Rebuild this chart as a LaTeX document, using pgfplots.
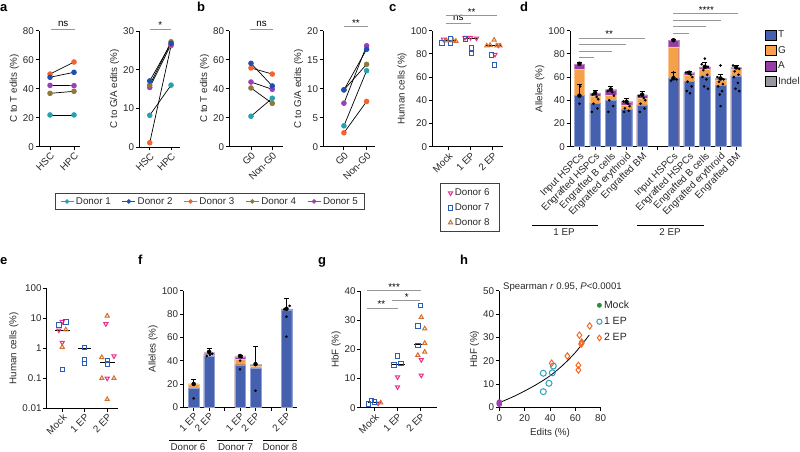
\documentclass[border=0pt]{standalone}
\usepackage{fontspec}
\setmainfont{Liberation Sans}
\usepackage{pgfplots}
\usepackage{pgfplotstable}
\pgfplotsset{compat=1.18}
\definecolor{dA}{RGB}{38,160,178}
\definecolor{dB}{RGB}{30,80,180}
\definecolor{dC}{RGB}{242,100,48}
\definecolor{dD}{RGB}{140,122,58}
\definecolor{dE}{RGB}{156,63,181}
\definecolor{dF}{RGB}{232,49,138}
\definecolor{dG}{RGB}{42,93,184}
\definecolor{dH}{RGB}{212,110,40}
\definecolor{sig}{RGB}{150,150,150}
\definecolor{cT}{RGB}{70,96,176}
\definecolor{cG}{RGB}{246,160,74}
\definecolor{cA}{RGB}{150,60,165}
\definecolor{cI}{RGB}{150,152,158}
\definecolor{hT}{RGB}{46,159,191}
\definecolor{hO}{RGB}{244,106,37}
\definecolor{hM}{RGB}{46,139,62}
\definecolor{hP}{RGB}{160,64,176}
\definecolor{txt}{RGB}{40,40,40}
\newcommand\fs{\fontsize{9.8}{11}\selectfont}
\newcommand\pl[1]{\node[anchor=base west,inner sep=0pt,font=\bfseries\fontsize{13}{14}\selectfont] at #1}
\pgfplotsset{
 gp/.style={anchor=south west, scale only axis, clip=false, enlargelimits=false,
  axis x line*=bottom, axis y line*=left, tick pos=left,
  axis line style={-, line width=0.9pt, black},
  tick align=outside, major tick length=3.5pt,
  major tick style={line width=0.9pt, black},
  tick label style={font=\fs, text=txt},
  yticklabel style={inner sep=1.5pt},
  label style={font=\fs, text=txt},
  ylabel style={yshift=-1pt},
  /pgf/number format/assume math mode=true},
 rot/.style={xticklabel style={rotate=45, anchor=north east, inner sep=1pt, font=\fs}},
 dl/.style={black, line width=0.7pt, mark=*, mark size=2.4pt, mark options={draw=#1, fill=#1}, forget plot},
 m6/.style={only marks, mark=triangle, mark size=2.4pt, mark options={rotate=180, draw=dF, fill=white, line width=1pt}},
 m7/.style={only marks, mark=square, mark size=2.2pt, mark options={draw=dG, fill=white, line width=1pt}},
 m8/.style={only marks, mark=triangle, mark size=2.4pt, mark options={draw=dH, fill=white, line width=1pt}},
 med/.style={black, line width=0.9pt, forget plot, mark=none},
 bs/.style={ybar, bar width=10.5pt, bar shift=0pt, fill=#1, draw=#1!60!white, line width=0.4pt, forget plot},
 eb/.style={only marks, mark=none, forget plot, error bars/.cd, y dir=plus, y explicit, error bar style={draw=black, line width=0.7pt}, error mark options={rotate=90, mark size=2.5pt, line width=0.7pt, draw=black}},
 dots/.style={only marks, mark=*, mark size=1.1pt, black, forget plot},
}
\pgfplotstableread{
x T G A I e
0 44 66.5 71 71.5 1.5
1 37.5 43.5 46 46.3 2
2 40 44 49 49.3 3
3 32 36 38.5 38.8 3
4 36 41.5 44.5 44.8 2.5
6 59 86 91.5 91.8 0.8
7 56.5 62 63.5 63.8 1.5
8 61 67 68.5 68.8 4
9 53 57 58.5 58.8 3.5
10 61 66.5 68 68.3 2
}\dtab
\pgfplotstableread{
x T G A I e
0 16 19.5 20 20 4
1 44 45 45.5 47.5 3
3 36.5 41 43 44 0.5
4 33.5 35.5 36 37 15
6 83 83.5 84 84.5 9
}\ftab
\begin{document}
\begin{tikzpicture}[x=1pt,y=1pt]
\useasboundingbox (0pt,0pt) rectangle (800pt,452pt);
% panel letters
\pl{(0pt,440pt)}{a};
\pl{(197pt,440pt)}{b};
\pl{(389pt,440pt)}{c};
\pl{(520pt,440pt)}{d};
\pl{(0pt,187pt)}{e};
\pl{(138pt,187pt)}{f};
\pl{(318pt,187pt)}{g};
\pl{(460pt,187pt)}{h};

% ---------- a left
\begin{axis}[gp, rot, at={(39pt,305.3pt)}, width=41pt, height=116pt,
 xmin=-0.46, xmax=1.25, ymin=0, ymax=80, ytick={0,20,40,60,80},
 xtick={0,1}, xticklabels={HSC,HPC}, ylabel={C to T edits (\%)},
 legend style={at={(4.17,-0.472)}, anchor=center, legend columns=5, draw=black!75, line width=0.9pt, font=\fs, text=txt, inner xsep=5pt, inner ysep=1.5pt, /tikz/every even column/.append style={column sep=9pt}},
 legend image code/.code={\draw[mark repeat=2,mark phase=2,#1] plot coordinates {(0pt,0pt) (6.5pt,0pt) (13pt,0pt)};}]
\addplot[dl=dA] coordinates {(0,21.9)(1,21.9)};
\addplot[dl=dD] coordinates {(0,36.8)(1,38.2)};
\addplot[dl=dE] coordinates {(0,42.3)(1,42.1)};
\addplot[dl=dC] coordinates {(0,50.1)(1,58.4)};
\addplot[dl=dB] coordinates {(0,47.9)(1,51.3)};
\addlegendimage{dA, line width=0.9pt, mark=*, mark size=1.8pt}
\addlegendimage{dB, line width=0.9pt, mark=*, mark size=1.8pt}
\addlegendimage{dC, line width=0.9pt, mark=*, mark size=1.8pt}
\addlegendimage{dD, line width=0.9pt, mark=*, mark size=1.8pt}
\addlegendimage{dE, line width=0.9pt, mark=*, mark size=1.8pt}
\legend{Donor 1,Donor 2,Donor 3,Donor 4,Donor 5}
\draw[sig, line width=1pt] (axis cs:0.05,81) -- (axis cs:1.05,81);
\node[font=\fs, anchor=base, inner sep=0pt] at (axis cs:0.55,83.2) {ns};
\end{axis}

% ---------- a right
\begin{axis}[gp, rot, at={(139.3pt,305pt)}, width=40.7pt, height=116pt,
 xmin=-0.49, xmax=1.42, ymin=0, ymax=30, ytick={0,10,20,30},
 xtick={0,1}, xticklabels={HSC,HPC}, ylabel={C to G/A edits (\%)}]
\addplot[dl=dC] coordinates {(0,1.1)(1,26.2)};
\addplot[dl=dE] coordinates {(0,15.4)(1,26.5)};
\addplot[dl=dA] coordinates {(0,8.2)(1,16)};
\addplot[dl=dD] coordinates {(0,16)(1,27.2)};
\addplot[dl=dB] coordinates {(0,17.1)(1,26.8)};
\draw[sig, line width=1pt] (axis cs:0,30.4) -- (axis cs:1,30.4);
\node[font=\fs, anchor=base, inner sep=0pt] at (axis cs:0.5,30.6) {*};
\end{axis}

% ---------- b left
\begin{axis}[gp, rot, at={(229.3pt,305.3pt)}, width=54pt, height=116pt,
 xmin=-1.02, xmax=1.52, ymin=0, ymax=80, ytick={0,20,40,60,80},
 xtick={0,1}, xticklabels={G0,Non-G0}, ylabel={C to T edits (\%)}]
\addplot[dl=dA] coordinates {(0,21)(1,33.4)};
\addplot[dl=dD] coordinates {(0,40.5)(1,29.9)};
\addplot[dl=dE] coordinates {(0,44.6)(1,39.6)};
\addplot[dl=dC] coordinates {(0,54.3)(1,50.1)};
\addplot[dl=dB] coordinates {(0,57.5)(1,41.9)};
\draw[sig, line width=1pt] (axis cs:-0.05,81) -- (axis cs:1.03,81);
\node[font=\fs, anchor=base, inner sep=0pt] at (axis cs:0.5,83.2) {ns};
\end{axis}

% ---------- b right
\begin{axis}[gp, rot, at={(323.3pt,305.3pt)}, width=51.7pt, height=116pt,
 xmin=-0.91, xmax=1.37, ymin=0, ymax=20, ytick={0,5,10,15,20},
 xtick={0,1}, xticklabels={G0,Non-G0}, ylabel={C to G/A edits (\%)}]
\addplot[dl=dC] coordinates {(0,2.4)(1,7.8)};
\addplot[dl=dA] coordinates {(0,3.6)(1,13.1)};
\addplot[dl=dE] coordinates {(0,7.5)(1,17.4)};
\addplot[dl=dD] coordinates {(0,9.8)(1,14.2)};
\addplot[dl=dB] coordinates {(0,9.8)(1,16.8)};
\draw[sig, line width=1pt] (axis cs:0,20.7) -- (axis cs:1.06,20.7);
\node[font=\fs, anchor=base, inner sep=0pt] at (axis cs:0.53,20.8) {**};
\end{axis}

% ---------- c
\begin{axis}[gp, rot, at={(432.3pt,305.3pt)}, width=70.7pt, height=116pt,
 xmin=-0.72, xmax=2.46, ymin=0, ymax=100, ytick={0,20,...,100},
 xtick={0,1,2}, xticklabels={Mock,1 EP,2 EP}, ylabel={Human cells (\%)},
 legend style={at={(0.533,-0.527)}, anchor=center, draw=black!75, line width=0.9pt, font=\fs, text=txt, row sep=2.5pt, inner xsep=8pt, inner ysep=3pt, legend cell align=left, /tikz/every even column/.append style={column sep=4pt}}]
\addplot[m6] coordinates {(-0.22,92.5)(0.75,94)(1.0,94)(1.27,93.5)(2.1,79.5)(2.25,87.5)};
\addplot[m7] coordinates {(-0.28,89.5)(0.09,93)(0.09,89.5)(0.78,93)(1.04,85)(1.04,80.5)(1.95,79)(2.07,70.5)};
\addplot[m8] coordinates {(-0.08,91.5)(0.22,91.5)(0.34,91)(1.73,87)(1.88,87.5)(2.06,92)(2.18,87)(2.33,87)};
\addplot[med] coordinates {(-0.3,92)(0.35,92)};
\addplot[med] coordinates {(0.7,93.5)(1.3,93.5)};
\addplot[med] coordinates {(1.7,87)(2.35,87)};
\legend{Donor 6,Donor 7,Donor 8}
\draw[sig, line width=1pt] (axis cs:-0.1,106.4) -- (axis cs:1.0,106.4);
\node[font=\fs, anchor=base, inner sep=0pt] at (axis cs:0.45,108.5) {ns};
\draw[sig, line width=1pt] (axis cs:-0.1,112.7) -- (axis cs:2.2,112.7);
\node[font=\fs, anchor=base, inner sep=0pt] at (axis cs:1.05,112.9) {**};
\end{axis}

% ---------- d
\begin{axis}[gp, rot, at={(570pt,305.3pt)}, width=171.7pt, height=116pt,
 xmin=-0.6, xmax=10.35, ymin=0, ymax=100, ytick={0,20,...,100},
 xtick={0,...,10},
 xticklabels={Input HSPCs,Engrafted HSPCs,Engrafted B cells,Engrafted erythroid,Engrafted BM,{},Input HSPCs,Engrafted HSPCs,Engrafted B cells,Engrafted erythroid,Engrafted BM},
 ylabel={Alleles (\%)},
 legend style={at={(1.118,1.035)}, anchor=north west, draw=none, fill=none, font=\fontsize{10}{11}\selectfont, text=txt, row sep=3pt, legend cell align=left},
 legend image code/.code={\fill[#1] (0pt,-5pt) rectangle (10.5pt,5pt);}]
\addplot[bs=cI] table[x=x,y=I] {\dtab};
\addplot[bs=cA] table[x=x,y=A] {\dtab};
\addplot[bs=cG] table[x=x,y=G] {\dtab};
\addplot[bs=cT] table[x=x,y=T] {\dtab};
\addplot[eb] table[x=x,y=I,y error=e] {\dtab};
\addplot[eb] coordinates {(0,44) +- (0,10) (6,59) +- (0,5)};
\addplot[dots] coordinates {(0,37)(0.05,52)
 (0.85,45)(1.1,43)(1.2,41)(0.9,37)(1.15,33)(0.8,30)
 (1.8,48)(2.1,47)(2.2,44)(1.9,40)(2.15,35)(1.85,30)
 (2.8,39)(3.1,37)(3.2,35)(2.9,33)(3.15,31)(2.85,30)
 (3.8,44)(4.1,42)(4.2,40)(3.9,37)(4.15,33)(3.85,30)
 (5.85,57)(6.0,64)(6.2,58)
 (6.8,64)(7.1,62)(7.2,60)(6.9,56)(7.15,52)(6.85,48)(7.05,46)
 (7.8,71)(8.0,76)(8.2,69)(7.9,66)(8.15,62)(7.85,60)(8.1,58)(7.95,52)(8.2,50)
 (8.8,60)(9.0,70)(9.2,58)(8.9,56)(9.15,54)(8.85,52)(9.1,48)(8.95,45)(9.0,35)
 (9.8,70)(10.0,69)(10.2,67)(9.9,65)(10.15,62)(9.85,60)(10.1,55)(9.95,50)(10.2,48)};
\addlegendimage{fill=cT}\addlegendentry{T}
\addlegendimage{fill=cG}\addlegendentry{G}
\addlegendimage{fill=cA}\addlegendentry{A}
\addlegendimage{fill=cI}\addlegendentry{Indel}
\draw[sig, line width=1pt] (axis cs:0,77.1) -- (axis cs:0.9,77.1);
\draw[sig, line width=1pt] (axis cs:0,81.9) -- (axis cs:2.1,81.9);
\draw[sig, line width=1pt] (axis cs:0,88.3) -- (axis cs:3.0,88.3);
\draw[sig, line width=1pt] (axis cs:0,93.4) -- (axis cs:4.2,93.4);
\node[font=\fs, anchor=base, inner sep=0pt] at (axis cs:1.9,94) {**};
\draw[sig, line width=1pt] (axis cs:6,97.8) -- (axis cs:7.0,97.8);
\draw[sig, line width=1pt] (axis cs:6,103.4) -- (axis cs:8.1,103.4);
\draw[sig, line width=1pt] (axis cs:6,108.6) -- (axis cs:9.0,108.6);
\draw[sig, line width=1pt] (axis cs:6,114.4) -- (axis cs:10.1,114.4);
\node[font=\fs, anchor=base, inner sep=0pt] at (axis cs:8.1,114.8) {****};
\end{axis}
\draw[line width=0.9pt] (531.7pt,227pt) -- (598.3pt,227pt);
\node[font=\fs, text=txt, anchor=base, inner sep=0pt] at (564pt,216.5pt) {1 EP};
\draw[line width=0.9pt] (637.3pt,227pt) -- (704pt,227pt);
\node[font=\fs, text=txt, anchor=base, inner sep=0pt] at (670pt,216.5pt) {2 EP};

% ---------- e
\begin{axis}[gp, rot, at={(46.7pt,43.7pt)}, width=71.3pt, height=120pt,
 xmin=-0.69, xmax=2.48, ymode=log, ymin=0.01, ymax=100,
 ytick={0.01,0.1,1,10,100}, yticklabels={0.01,0.1,1,10,100}, yminorticks=false,
 xtick={0,1,2}, xticklabels={Mock,1 EP,2 EP}, ylabel={Human cells (\%)}]
\addplot[m6] coordinates {(-0.15,4)(0,7.7)(0,1.55)(1.94,6.5)(2.3,0.55)(2.0,0.1)};
\addplot[m7] coordinates {(-0.15,6)(0.16,7.5)(0,0.2)(1,1.05)(1,0.43)(1,0.31)(2,0.4)(2,0.3)};
\addplot[m8] coordinates {(0.16,4.2)(0,1.1)(2,12)(1.76,0.5)(1.76,0.1)(2.3,0.1)(2,0.02)};
\addplot[med] coordinates {(-0.3,4)(0.35,4)};
\addplot[med] coordinates {(0.7,1)(1.3,1)};
\addplot[med] coordinates {(1.7,0.35)(2.35,0.35)};
\end{axis}

% ---------- f
\begin{axis}[gp, rot, at={(183.3pt,44.7pt)}, width=114pt, height=116.6pt,
 xmin=-0.67, xmax=6.7, ymin=0, ymax=100, ytick={0,20,...,100},
 xtick={0,...,6}, xticklabels={1 EP,2 EP,{},1 EP,2 EP,{},2 EP},
 ylabel={Alleles (\%)}]
\addplot[bs=cI] table[x=x,y=I] {\ftab};
\addplot[bs=cA] table[x=x,y=A] {\ftab};
\addplot[bs=cG] table[x=x,y=G] {\ftab};
\addplot[bs=cT] table[x=x,y=T] {\ftab};
\addplot[eb] table[x=x,y=I,y error=e] {\ftab};
\addplot[dots] coordinates {(0,7.7)(0,20)
 (0.85,44)(1.05,45)(1.2,46)(0.95,48)
 (3,32.6)(3,40)(3.1,43)
 (4,14.2)(4,37)
 (6,60.6)(6,77.7)(5.85,84)(6.2,87)};
\end{axis}
\draw[line width=0.9pt] (169pt,12pt) -- (207.3pt,12pt);
\node[font=\fs, text=txt, anchor=base, inner sep=0pt] at (188pt,1pt) {Donor 6};
\draw[line width=0.9pt] (217pt,12pt) -- (253pt,12pt);
\node[font=\fs, text=txt, anchor=base, inner sep=0pt] at (235.5pt,1pt) {Donor 7};
\draw[line width=0.9pt] (263pt,12pt) -- (296.7pt,12pt);
\node[font=\fs, text=txt, anchor=base, inner sep=0pt] at (280pt,1pt) {Donor 8};

% ---------- g
\begin{axis}[gp, rot, at={(360.7pt,44.3pt)}, width=76pt, height=116.7pt,
 xmin=-0.6, xmax=2.7, ymin=0, ymax=40, ytick={0,10,...,40},
 xtick={0,1,2}, xticklabels={Mock,1 EP,2 EP}, ylabel={HbF (\%)}]
\addplot[m6] coordinates {(0.16,1.5)(1,10.5)(1,7.1)(2.03,16.4)(2.03,11.1)};
\addplot[m7] coordinates {(-0.25,1.3)(-0.13,2.4)(0,1.95)(1,17.7)(0.85,14.7)(1.15,15.2)(2,35.1)(1.88,28)(1.88,21.3)};
\addplot[m8] coordinates {(0.27,1.7)(2.03,31)(2.18,27.1)(2.18,22.1)(2.18,19.1)(1.88,18)};
\addplot[med] coordinates {(-0.3,1.7)(0.3,1.7)};
\addplot[med] coordinates {(0.7,14.7)(1.31,14.7)};
\addplot[med] coordinates {(1.7,21.7)(2.3,21.7)};
\draw[sig, line width=1pt] (axis cs:-0.33,40) -- (axis cs:2.0,40);
\node[font=\fs, anchor=base, inner sep=0pt] at (axis cs:0.85,40.2) {***};
\draw[sig, line width=1pt] (axis cs:-0.33,34.1) -- (axis cs:1.0,34.1);
\node[font=\fs, anchor=base, inner sep=0pt] at (axis cs:0.3,34.3) {**};
\draw[sig, line width=1pt] (axis cs:0.78,36.7) -- (axis cs:1.97,36.7);
\node[font=\fs, anchor=base, inner sep=0pt] at (axis cs:1.4,36.9) {*};
\end{axis}

% ---------- h
\begin{axis}[gp, at={(499.3pt,44.7pt)}, width=101.4pt, height=116.6pt,
 xmin=0, xmax=80, ymin=0, ymax=50, xtick={0,20,...,80}, ytick={0,10,...,50},
 xlabel={Edits (\%)}, ylabel={HbF (\%)},
 legend style={at={(0.93,0.95)}, anchor=north west, draw=none, fill=none, font=\fontsize{10.5}{12}\selectfont, text=txt, row sep=3.5pt, legend cell align=left}]
\addplot[black, line width=0.8pt, smooth, forget plot] coordinates {(0,2)(10,4.3)(20,7)(30,10)(40,13.5)(50,18)(60,23.5)(71,31)};
\addplot[only marks, mark=*, mark size=2.4pt, mark options={draw=hP, fill=hP}, forget plot] coordinates {(0,1.3)(0,1.6)(0,2.0)(0,2.3)(0,1.8)(0,1.5)};
\addplot[only marks, mark=o, mark size=3pt, mark options={draw=hT, line width=1pt}, forget plot] coordinates {(34.7,14.6)(34.7,6.7)(39.2,10.3)(41.8,14.8)(42.6,17.7)};
\addplot[only marks, mark=diamond, mark size=3.2pt, mark options={draw=hO, line width=1pt}, forget plot] coordinates {(41.3,18.9)(53.7,22)(62.4,18)(62.4,16)(63.2,30.9)(64.5,27.1)(65,28)(65,27.4)(71.3,34.9)};
\addlegendimage{only marks, mark=*, mark size=2.2pt, mark options={draw=hM, fill=hM}}
\addlegendimage{only marks, mark=o, mark size=2.6pt, mark options={draw=hT, line width=1pt}}
\addlegendimage{only marks, mark=diamond, mark size=2.8pt, mark options={draw=hO, line width=1pt}}
\legend{Mock,1 EP,2 EP}
\end{axis}
\node[anchor=base west, inner sep=0pt, text=txt, font=\fontsize{9.6}{10}\selectfont] at (503pt,162pt) {Spearman \textit{r} 0.95, \textit{P}<0.0001};
\end{tikzpicture}
\end{document}
